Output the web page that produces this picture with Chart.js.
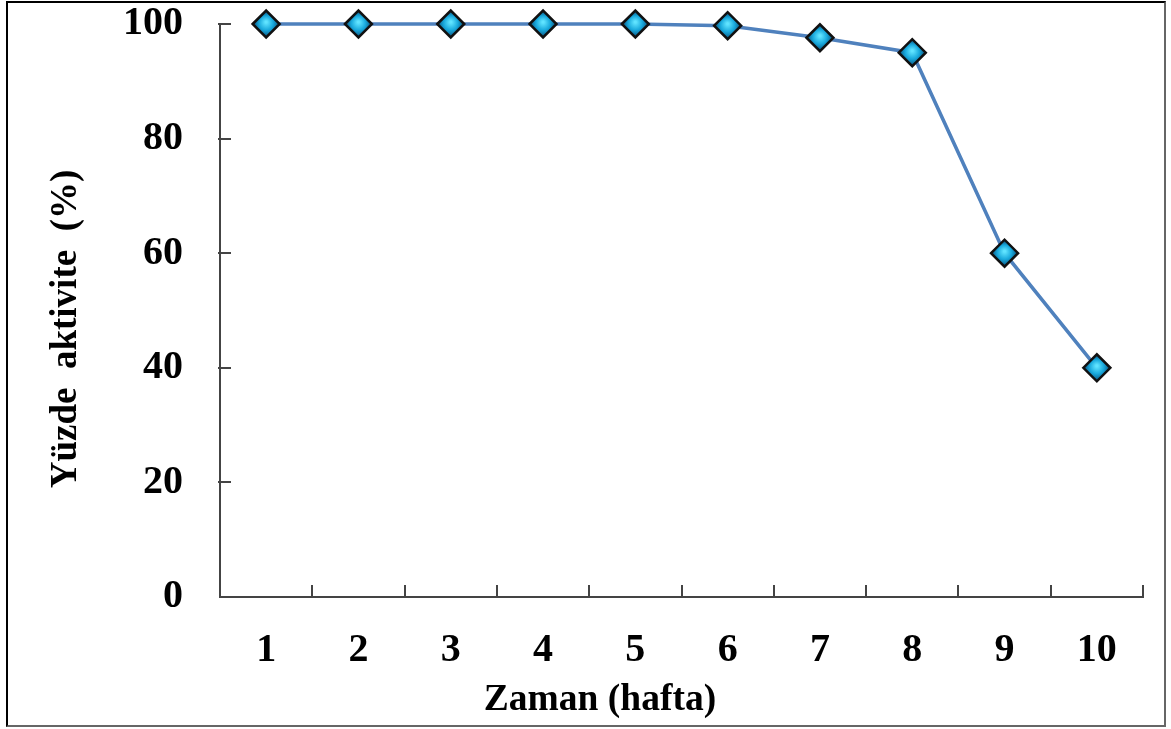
<!DOCTYPE html>
<html>
<head>
<meta charset="utf-8">
<script src="https://cdn.jsdelivr.net/npm/chart.js@4.4.0/dist/chart.umd.min.js"></script>
<style>
    html, body { margin: 0; padding: 0; background: #fff; }
    #wrap { position: relative; width: 1171px; height: 729px; }
    #frame {
        position: absolute; left: 6px; top: 1px; width: 1156px; height: 722px;
        border-left: 2px solid #000; border-top: 2px solid #000;
        border-right: 2px solid #666; border-bottom: 2px solid #666;
        pointer-events: none;
    }
</style>
</head>
<body>
<div id="wrap">
    <canvas id="chart" width="1171" height="729"></canvas>
    <div id="frame"></div>
</div>
<script>
// Data
const weeks = ['1', '2', '3', '4', '5', '6', '7', '8', '9', '10'];
const activity = [100, 100, 100, 100, 100, 99.7, 97.6, 95, 60, 40];
const yTicks = [0, 20, 40, 60, 80, 100];

const xTitle = 'Zaman (hafta)';
// trailing spaces nudge the rotated title down a little, as in the original
const yTitle = 'Yüzde  aktivite  (%)    ';

const serif = "'Liberation Serif', 'Times New Roman', serif";

// Diamond fill: light cyan centre, darker blue edge
function markerFill(context) {
    const chart = context.chart;
    const xs = chart.scales.x, ys = chart.scales.y;
    if (!xs || !ys || context.parsed === undefined) return '#1fa6d6';
    const px = xs.getPixelForValue(context.dataIndex);
    const py = ys.getPixelForValue(context.parsed.y);
    if (!isFinite(px) || !isFinite(py)) return '#1fa6d6';
    const g = chart.ctx.createRadialGradient(px, py - 2, 1, px, py, 12);
    g.addColorStop(0, '#5fe3ff');
    g.addColorStop(0.55, '#19a9dc');
    g.addColorStop(1, '#0b5f8c');
    return g;
}

// Short tick marks drawn inside the plot, like the original
const innerTicks = {
    id: 'innerTicks',
    beforeDatasetsDraw(chart) {
        const ctx = chart.ctx;
        const area = chart.chartArea;
        const xs = chart.scales.x, ys = chart.scales.y;
        ctx.save();
        ctx.strokeStyle = '#444';
        ctx.lineWidth = 2;
        ctx.beginPath();
        yTicks.forEach(v => {
            if (v === 0) return;
            const py = Math.round(ys.getPixelForValue(v));
            ctx.moveTo(area.left - 2, py);
            ctx.lineTo(area.left + 11, py);
        });
        const step = xs.getPixelForValue(1) - xs.getPixelForValue(0);
        weeks.forEach((w, i) => {
            const px = Math.round(xs.getPixelForValue(i) + step / 2);
            ctx.moveTo(px, area.bottom);
            ctx.lineTo(px, area.bottom - 12);
        });
        ctx.stroke();
        ctx.restore();
    }
};

new Chart(document.getElementById('chart'), {
    type: 'line',
    data: {
        labels: weeks,
        datasets: [{
            data: activity,
            clip: false,
            borderColor: '#4f81bd',
            borderWidth: 3.5,
            tension: 0,
            pointStyle: 'rectRot',
            pointRadius: 13.5,
            pointHoverRadius: 13.5,
            pointBorderWidth: 2.5,
            pointBorderColor: '#111',
            pointBackgroundColor: markerFill
        }]
    },
    options: {
        responsive: false,
        animation: false,
        events: [],
        layout: { padding: { left: 57, right: 28, top: 24, bottom: 0 } },
        plugins: {
            legend: { display: false },
            tooltip: { enabled: false },
            title: {
                display: true,
                text: xTitle,
                position: 'bottom',
                color: '#000',
                font: { family: serif, size: 37.5, weight: 'bold' },
                padding: { top: 0, bottom: 6 }
            },
            subtitle: {
                display: true,
                text: yTitle,
                position: 'left',
                fullSize: false,
                color: '#000',
                font: { family: serif, size: 37, weight: 'bold', lineHeight: 0.5 },
                padding: { top: 0, bottom: 0 }
            }
        },
        scales: {
            x: {
                offset: true,
                grid: { display: false, drawTicks: false },
                border: { display: true, color: '#444', width: 2 },
                ticks: {
                    color: '#000',
                    padding: 30,
                    maxRotation: 0,
                    font: { family: serif, size: 40, weight: 'bold' }
                },
                afterFit(scale) {
                    scale.height = 81;
                    scale.paddingLeft = 0;
                    scale.paddingRight = 0;
                }
            },
            y: {
                min: 0,
                max: 100,
                grid: { display: false, drawTicks: false },
                border: { display: true, color: '#444', width: 2 },
                ticks: {
                    stepSize: 20,
                    color: '#000',
                    padding: 37,
                    font: { family: serif, size: 40, weight: 'bold' }
                },
                afterFit(scale) {
                    scale.width = 144.5;
                    scale.paddingTop = 0;
                    scale.paddingBottom = 0;
                }
            }
        }
    },
    plugins: [innerTicks]
});
</script>
</body>
</html>
